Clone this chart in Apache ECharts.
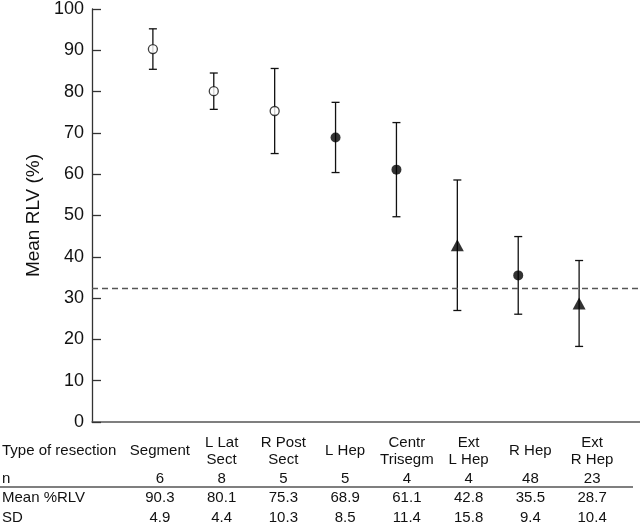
<!DOCTYPE html>
<html>
<head>
<meta charset="utf-8">
<script src="https://cdn.jsdelivr.net/npm/echarts@6/dist/echarts.min.js"></script>
<style>
  html, body { margin: 0; padding: 0; background: #fff; }
  #chart { width: 640px; height: 527px; }
</style>
</head>
<body>
<div id="chart"></div>
<script>
const categories = ['Segment', 'L Lat\nSect', 'R Post\nSect', 'L Hep', 'Centr\nTrisegm', 'Ext\nL Hep', 'R Hep', 'Ext\nR Hep']
const nValues = [6, 8, 5, 5, 4, 4, 48, 23]
const meanRLV = [90.3, 80.1, 75.3, 68.9, 61.1, 42.8, 35.5, 28.7]
const sdRLV = [4.9, 4.4, 10.3, 8.5, 11.4, 15.8, 9.4, 10.4]
const markerKind = ['open', 'open', 'open', 'filled', 'filled', 'triangle', 'filled', 'triangle']
const thresholdRLV = 32.3
const rowHeaders = ['Type of resection', 'n', 'Mean %RLV', 'SD']

const FONT = "'Liberation Sans', Arial, sans-serif"
const INK = '#111'

const chart = echarts.init(document.getElementById('chart'), null, { renderer: 'canvas' })

// marker styles per group
const markerStyle = (kind) => {
  if (kind === 'open') return { symbol: 'circle', symbolSize: 9, itemStyle: { color: '#fff', borderColor: INK, borderWidth: 1.3 } }
  if (kind === 'filled') return { symbol: 'circle', symbolSize: 10, itemStyle: { color: '#000', borderWidth: 0 } }
  return { symbol: 'triangle', symbolSize: [13, 12], itemStyle: { color: '#000', borderWidth: 0 } }
}

// table rows: each is an x axis on the table grid, pushed down by offset
const tableRow = (data, offset) => ({
  type: 'category',
  gridIndex: 1,
  position: 'bottom',
  offset: offset,
  data: data,
  axisLine: { show: false },
  axisTick: { show: false },
  axisLabel: {
    interval: 0,
    margin: 0,
    verticalAlign: 'middle',
    color: INK,
    fontSize: 15,
    fontFamily: FONT,
    lineHeight: 17,
  },
})

const rowY = [451, 479, 498, 518] // vertical centres of the table rows

chart.setOption({
  animation: false,
  backgroundColor: '#fff',
  grid: [
    { left: 92, right: 0, top: 6, bottom: 105 },
    { left: 129, width: 494, top: 0, height: 1 }, // table columns
  ],
  xAxis: [
    {
      type: 'value',
      min: 0,
      max: 9,
      interval: 1,
      axisLine: { show: true, lineStyle: { color: '#555', width: 1.5 } },
      axisTick: { show: false },
      axisLabel: { show: false },
      splitLine: { show: false },
    },
    tableRow(categories, rowY[0] - 1),
    tableRow(nValues.map(String), rowY[1] - 1),
    tableRow(meanRLV.map((v) => v.toFixed(1)), rowY[2] - 1),
    tableRow(sdRLV.map((v) => v.toFixed(1)), rowY[3] - 1),
  ],
  yAxis: [
    {
      type: 'value',
      min: 0,
      max: 100,
      interval: 10,
      name: 'Mean RLV (%)',
      nameLocation: 'middle',
      nameGap: 47,
      nameTextStyle: { fontSize: 19, fontFamily: FONT, color: INK },
      axisLine: { show: true, lineStyle: { color: '#333', width: 1.3 } },
      axisTick: { show: true, inside: true, length: 9, lineStyle: { color: '#333', width: 1.3 } },
      axisLabel: { margin: 8, fontSize: 18, fontFamily: FONT, color: INK },
      splitLine: { show: false },
    },
    { type: 'value', gridIndex: 1, show: false },
  ],
  graphic: [
    ...rowHeaders.map((t, i) => ({
      type: 'text',
      x: 2,
      y: rowY[i],
      style: { text: t, fill: INK, fontSize: 15, fontFamily: FONT, align: 'left', verticalAlign: 'middle' },
    })),
    {
      type: 'line',
      shape: { x1: 0, y1: 487, x2: 633, y2: 487 },
      style: { stroke: '#555', lineWidth: 1.5 },
    },
  ],
  series: [
    {
      // ± SD error bars
      type: 'custom',
      xAxisIndex: 0,
      yAxisIndex: 0,
      silent: true,
      data: meanRLV.map((m, i) => [i + 1, m - sdRLV[i], m + sdRLV[i]]),
      renderItem: (params, api) => {
        const lo = api.coord([api.value(0), api.value(1)])
        const hi = api.coord([api.value(0), api.value(2)])
        const half = 4
        const style = { stroke: INK, lineWidth: 1.3 }
        return {
          type: 'group',
          children: [
            { type: 'line', shape: { x1: lo[0], y1: lo[1], x2: hi[0], y2: hi[1] }, style },
            { type: 'line', shape: { x1: hi[0] - half, y1: hi[1], x2: hi[0] + half, y2: hi[1] }, style },
            { type: 'line', shape: { x1: lo[0] - half, y1: lo[1], x2: lo[0] + half, y2: lo[1] }, style },
          ],
        }
      },
      z: 2,
    },
    {
      type: 'scatter',
      xAxisIndex: 0,
      yAxisIndex: 0,
      silent: true,
      data: meanRLV.map((m, i) => ({ value: [i + 1, m], ...markerStyle(markerKind[i]) })),
      markLine: {
        silent: true,
        symbol: 'none',
        label: { show: false },
        lineStyle: { color: '#555', width: 1.3, type: [6, 4] },
        data: [{ yAxis: thresholdRLV }],
      },
      z: 3,
    },
  ],
})
</script>
</body>
</html>
